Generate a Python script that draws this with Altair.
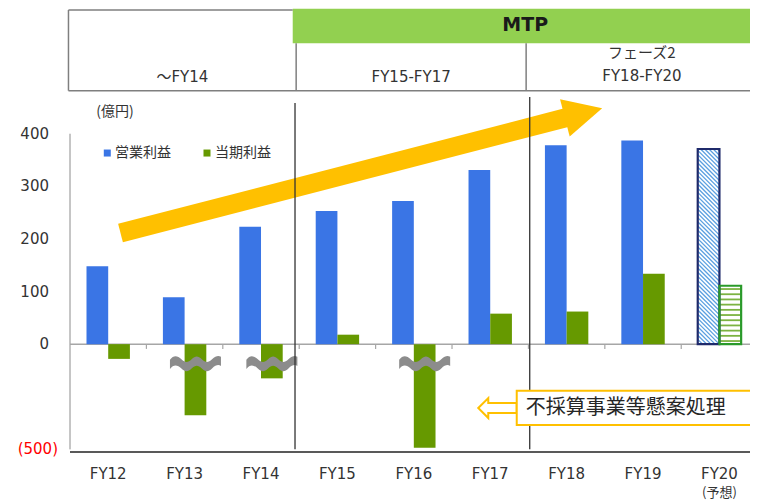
import altair as alt
import pandas as pd

# ---------------- data ----------------
fiscal_years = ["FY12", "FY13", "FY14", "FY15", "FY16", "FY17", "FY18", "FY19", "FY20"]
year_notes = ["", "", "", "", "", "", "", "", "(予想)"]
operating_profit = [148, 89, 223, 253, 272, 331, 378, 387, 371]          # 営業利益
net_profit_shown = [-28, -135, -65, 18, -197, 58, 62, 134, 111]          # 当期利益 (as drawn on the broken axis)
forecast = [False, False, False, False, False, False, False, False, True]
series_names = ["営業利益", "当期利益"]
series_colors = ["#3A75E5", "#669900"]
forecast_strokes = ["#1F2A6B", "#2A9A2A"]
break_years = ["FY13", "FY14", "FY16"]
y_tick_values = [400, 300, 200, 100, 0, -100, -200]
y_tick_labels = ["400", "300", "200", "100", "0", "", "(500)"]
period_labels = ["〜FY14", "FY15-FY17", "FY18-FY20"]
period_titles = ["", "", "フェーズ2"]
period_edges = [-0.52, 2.46, 5.47, 8.5]
plan_label = "MTP"
unit_label = "(億円)"
note_text = "不採算事業等懸案処理"

# ---------------- layout ----------------
W, H = 680, 444
X_DOM = [-0.5, 8.4]
Y_DOM = [-205, 639]
PX_X = W / (X_DOM[1] - X_DOM[0])
PX_Y = H / (Y_DOM[1] - Y_DOM[0])
BAR_W = 21.7 / PX_X
FONT = "DejaVu Sans, Noto Sans CJK JP, sans-serif"
JP = "Noto Sans CJK JP, DejaVu Sans, sans-serif"
TXT = "#333333"
ORANGE = "#FFC000"
HEAD_GRAY = "#7F7F7F"

xs = alt.Scale(domain=X_DOM, nice=False, zero=False)
ys = alt.Scale(domain=Y_DOM, nice=False, zero=False)
color_scale = alt.Scale(domain=series_names, range=series_colors)


def X(f="x"):
    return alt.X(f"{f}:Q", scale=xs, axis=None)


def Y(f="y", axis=None):
    return alt.Y(f"{f}:Q", scale=ys, axis=axis)


idx = {fy: i for i, fy in enumerate(fiscal_years)}

# bars table
rows = []
for i, fy in enumerate(fiscal_years):
    rows.append(dict(fy=fy, series=series_names[0], x=i - BAR_W, x2=i, y=0, y2=operating_profit[i], fc=forecast[i]))
    rows.append(dict(fy=fy, series=series_names[1], x=i, x2=i + BAR_W, y=0, y2=net_profit_shown[i], fc=forecast[i]))
bars_df = pd.DataFrame(rows)
solid_df = bars_df[~bars_df.fc]
fc_df = bars_df[bars_df.fc]

# hatch for forecast operating profit (diagonal) and net profit (horizontal)
hatch = []
for _, r in fc_df[fc_df.series == series_names[0]].iterrows():
    Wp = BAR_W * PX_X
    Hp = r.y2 * PX_Y
    step = 4.2
    c = -Wp + step / 2
    while c < Hp:
        xa, xb = max(0, -c), min(Wp, Hp - c)
        if xb > xa:
            hatch.append(dict(x=r.x + xa / PX_X, y=r.y2 - (xa + c) / PX_Y,
                              x2=r.x + xb / PX_X, y2=r.y2 - (xb + c) / PX_Y))
        c += step
hatch_df = pd.DataFrame(hatch)

stripes = []
for _, r in fc_df[fc_df.series == series_names[1]].iterrows():
    stepv = 5.2 / PX_Y
    v = stepv * 0.6
    while v < r.y2 - 1:
        stripes.append(dict(x=r.x + 0.01, x2=r.x2 - 0.01, y=v))
        v += stepv
stripes_df = pd.DataFrame(stripes)

# ---------------- header ----------------
hdr_green = alt.Chart(pd.DataFrame([dict(x=2.415, x2=8.6, y=571.9, y2=637.7)])).mark_rect(
    color="#92D050", clip=True).encode(x=X(), x2="x2:Q", y=Y(), y2="y2:Q")
hdr_lines_df = pd.DataFrame([
    dict(x=period_edges[0], x2=2.415, y=635.2, y2=635.2),
    dict(x=period_edges[0], x2=period_edges[0], y=481.8, y2=635.2),
    dict(x=period_edges[0], x2=8.4, y=481.8, y2=481.8),
    dict(x=period_edges[1], x2=period_edges[1], y=481.8, y2=571.9),
    dict(x=period_edges[2], x2=period_edges[2], y=481.8, y2=571.9),
])
hdr_lines = alt.Chart(hdr_lines_df).mark_rule(color=HEAD_GRAY, strokeWidth=1.5).encode(
    x=X(), x2="x2:Q", y=Y(), y2="y2:Q")
per_df = pd.DataFrame(dict(
    label=period_labels, title=period_titles,
    x=[(period_edges[k] + period_edges[k + 1]) / 2 for k in range(3)]))
per_df["y"] = [507.8, 507.8, 509.7]
hdr_text = alt.Chart(per_df).mark_text(font=FONT, fontSize=15, color=TXT, baseline="middle").encode(
    x=X(), y=Y(), text="label:N")
hdr_title = alt.Chart(per_df.assign(y=553.4)).mark_text(font=JP, fontSize=15, color=TXT, baseline="middle").encode(
    x=X(), y=Y(), text="title:N")
mtp = alt.Chart(pd.DataFrame([dict(t=plan_label, x=(2.415 + 8.5) / 2, y=606.7)])).mark_text(
    font=FONT, fontSize=19, fontWeight="bold", color="#1A1A1A", baseline="middle").encode(
    x=X(), y=Y(), text="t:N")

# ---------------- unit & legend ----------------
unit = alt.Chart(pd.DataFrame([dict(t=unit_label, x=0.089, y=441.3)])).mark_text(
    font=JP, fontSize=14, color=TXT, baseline="middle").encode(x=X(), y=Y(), text="t:N")
leg_df = pd.DataFrame(dict(series=series_names, x=[-0.012, 1.293], tx=[0.089, 1.398], y=[363.3, 363.3]))
leg_sq = alt.Chart(leg_df).mark_square(size=49, opacity=1).encode(
    x=X(), y=Y(), color=alt.Color("series:N", scale=color_scale, legend=None))
leg_tx = alt.Chart(leg_df).mark_text(font=JP, fontSize=14, color=TXT, align="left", baseline="middle").encode(
    x=X("tx"), y=Y(), text="series:N")

# ---------------- axes ----------------
yaxis = alt.Chart(pd.DataFrame([dict(x=-0.5, y=y_tick_values[-1], y2=y_tick_values[0])])).mark_rule(
    color="#8C8C8C", strokeWidth=1).encode(
    x=X(),
    y=Y(axis=alt.Axis(values=y_tick_values, labels=False, domain=False, grid=False, ticks=True,
                      tickSize=4, tickColor="#8C8C8C", title=None)),
    y2="y2:Q")
ylab_df = pd.DataFrame(dict(v=y_tick_values, t=y_tick_labels))
ylab = alt.Chart(ylab_df[(ylab_df.t != "") & (ylab_df.v >= 0)].assign(x=-0.5)).mark_text(
    font=FONT, fontSize=15, color=TXT, align="right", baseline="middle", dx=-21).encode(
    x=X(), y=Y("v"), text="t:N")
ylab_neg = alt.Chart(ylab_df[(ylab_df.t != "") & (ylab_df.v < 0)].assign(x=-0.5)).mark_text(
    font=FONT, fontSize=15, color="#FF0000", align="right", baseline="middle", dx=-12).encode(
    x=X(), y=Y("v"), text="t:N")
zero_line = alt.Chart(pd.DataFrame([dict(x=-0.5, x2=8.4, y=0)])).mark_rule(
    color="#A6A6A6", strokeWidth=1.5).encode(x=X(), x2="x2:Q", y=Y())
zticks = alt.Chart(pd.DataFrame(dict(x=[i + 0.5 for i in range(len(fiscal_years) - 1)], y=0, y2=-9))).mark_rule(
    color="#A6A6A6", strokeWidth=1.2).encode(x=X(), y=Y(), y2="y2:Q")
bottom_line = alt.Chart(pd.DataFrame([dict(x=-0.5, x2=8.4, y=Y_DOM[0])])).mark_rule(
    color="#595959", strokeWidth=2).encode(x=X(), x2="x2:Q", y=Y())

# ---------------- bars ----------------
solid = alt.Chart(solid_df).mark_rect().encode(
    x=X(), x2="x2:Q", y=Y(), y2="y2:Q", color=alt.Color("series:N", scale=color_scale, legend=None))
fc_fill = alt.Chart(fc_df).mark_rect(fill="white").encode(x=X(), x2="x2:Q", y=Y(), y2="y2:Q")
hatch_l = alt.Chart(hatch_df).mark_rule(color="#5A9FE0", strokeWidth=1.3).encode(
    x=X(), x2="x2:Q", y=Y(), y2="y2:Q")
stripe_l = alt.Chart(stripes_df).mark_rule(color="#7CB342", strokeWidth=1.8).encode(
    x=X(), x2="x2:Q", y=Y())
fc_border = alt.Chart(fc_df).mark_rect(fillOpacity=0, strokeWidth=2.2).encode(
    x=X(), x2="x2:Q", y=Y(), y2="y2:Q",
    stroke=alt.Stroke("series:N", scale=alt.Scale(domain=series_names, range=forecast_strokes), legend=None))

# ---------------- axis-break marks ----------------
WAVE = ("M-1,-0.14 C-0.85,-0.34 -0.7,-0.3 -0.55,-0.16 C-0.4,-0.02 -0.3,-0.02 -0.15,-0.16 "
        "C0,-0.3 0.1,-0.3 0.25,-0.16 C0.4,-0.02 0.5,-0.02 0.65,-0.16 C0.8,-0.3 0.9,-0.32 1,-0.26 "
        "L1,0.1 C0.9,0.04 0.8,0.06 0.65,0.2 C0.5,0.34 0.4,0.34 0.25,0.2 C0.1,0.06 0,0.06 -0.15,0.2 "
        "C-0.3,0.34 -0.4,0.34 -0.55,0.2 C-0.7,0.06 -0.85,0.02 -1,0.22 Z")
brk_df = pd.DataFrame(dict(x=[idx[f] + BAR_W / 2 for f in break_years], y=-36.5))
brk = alt.Chart(brk_df).mark_point(shape=WAVE, size=2601, filled=True, color="#8C8C8C", opacity=1,
                                   strokeWidth=0).encode(x=X(), y=Y())

# ---------------- growth arrow ----------------
shaft = alt.Chart(pd.DataFrame([dict(x=0.161, y=211.3, x2=5.99, y2=430.3)])).mark_rule(
    color=ORANGE, strokeWidth=19, strokeCap="butt").encode(x=X(), y=Y(), x2="x2:Q", y2="y2:Q")
TRI = "M-1,-1 L1,0 L-1,1 Z"
head = alt.Chart(pd.DataFrame([dict(x=6.221, y=439.2)])).mark_point(
    shape=TRI, size=1482, angle=345.5, filled=True, color=ORANGE, opacity=1, strokeWidth=0).encode(x=X(), y=Y())

# ---------------- period dividers ----------------
div = alt.Chart(pd.DataFrame(dict(x=[2.445, 5.517], y=[458.4, 469.8], y2=-200))).mark_rule(
    color="#333333", strokeWidth=1.3).encode(x=X(), y=Y(), y2="y2:Q")

# ---------------- annotation ----------------
HOLLOW = "M-1,0 L-0.48,-0.52 L-0.48,-0.26 L1,-0.26 L1,0.26 L-0.48,0.26 L-0.48,0.52 Z"
h_arrow = alt.Chart(pd.DataFrame([dict(x=5.095, y=-121.5)])).mark_point(
    shape=HOLLOW, size=1475, filled=True, fill="white", stroke=ORANGE, strokeWidth=2, opacity=1).encode(
    x=X(), y=Y())
box = alt.Chart(pd.DataFrame([dict(x=5.347, x2=8.7, y=-153.8, y2=-88.6)])).mark_rect(
    fill="white", stroke=ORANGE, strokeWidth=2, clip=True).encode(x=X(), x2="x2:Q", y=Y(), y2="y2:Q")
note = alt.Chart(pd.DataFrame([dict(t=note_text, x=5.465, y=-121.5)])).mark_text(
    font=JP, fontSize=20, color="#262626", align="left", baseline="middle").encode(x=X(), y=Y(), text="t:N")

# ---------------- x labels ----------------
xl_df = pd.DataFrame(dict(fy=fiscal_years, note=year_notes, x=list(range(len(fiscal_years))), y=Y_DOM[0]))
xlab = alt.Chart(xl_df).mark_text(font=FONT, fontSize=15, color=TXT, baseline="middle", dy=22).encode(
    x=X(), y=Y(), text="fy:N")
xnote = alt.Chart(xl_df[xl_df.note != ""]).mark_text(font=JP, fontSize=13, color=TXT, baseline="middle", dy=41).encode(
    x=X(), y=Y(), text="note:N")

chart = alt.layer(
    hdr_green, hdr_lines, hdr_text, hdr_title, mtp,
    unit, leg_sq, leg_tx,
    yaxis, ylab, ylab_neg, zero_line, zticks, bottom_line,
    solid, fc_fill, hatch_l, stripe_l, fc_border, brk,
    shaft, head, div,
    h_arrow, box, note,
    xlab, xnote,
).properties(
    width=W, height=H,
    autosize=alt.AutoSizeParams(type="none"),
    padding={"left": 62, "top": 0, "right": 0, "bottom": 50},
).configure_view(stroke=None)

chart.save("out.html", embed_options={"renderer": "svg", "actions": False})
